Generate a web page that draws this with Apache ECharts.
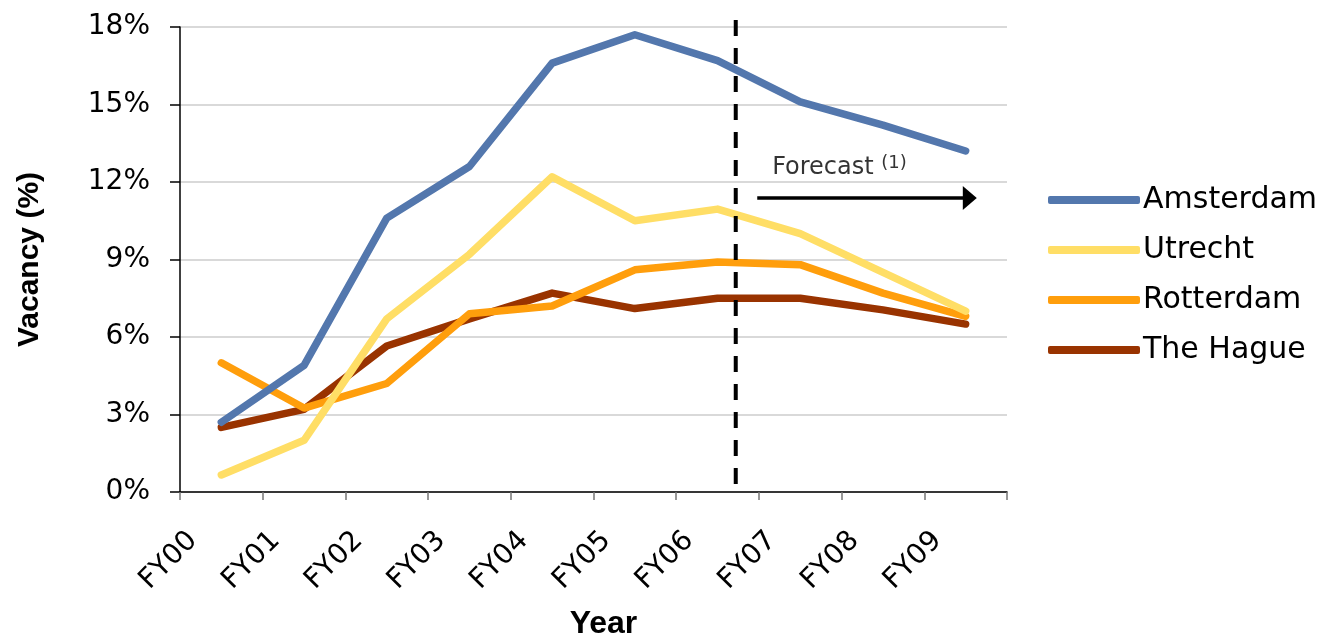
<!DOCTYPE html>
<html>
<head>
<meta charset="utf-8">
<script src="https://cdn.jsdelivr.net/npm/echarts@6/dist/echarts.min.js"></script>
<style>
html,body{margin:0;padding:0;background:#fff;}
#chart{width:1324px;height:641px;}
</style>
</head>
<body>
<div id="chart"></div>
<script>
const categories = ['FY00','FY01','FY02','FY03','FY04','FY05','FY06','FY07','FY08','FY09'];
const amsterdam = [2.7, 4.9, 10.6, 12.6, 16.6, 17.7, 16.7, 15.1, 14.2, 13.2];
const utrecht   = [0.66, 2.0, 6.7, 9.2, 12.2, 10.5, 10.95, 10.0, 8.5, 7.0];
const rotterdam = [5.0, 3.25, 4.2, 6.9, 7.2, 8.6, 8.9, 8.8, 7.7, 6.8];
const theHague  = [2.5, 3.2, 5.65, 6.7, 7.7, 7.1, 7.5, 7.5, 7.05, 6.5];
const seriesNames = ['Amsterdam','Utrecht','Rotterdam','The Hague'];
const yTicks = {min: 0, max: 18, interval: 3};
// Forecast annotation (in category-index units, 0..10 across plot; y in %)
const forecastStart = 6.72;
const forecastTop = 18.27;
const arrowFrom = [6.98, 11.38];
const arrowTo = [9.55, 11.38];
const forecastLabelAt = [7.16, 12.54];

const colors = ['#5377AD', '#FFDE66', '#FF9E0C', '#993300'];
const font = 'DejaVu Sans';

const chart = echarts.init(document.getElementById('chart'));
const seriesData = [amsterdam, utrecht, rotterdam, theHague];

const lineSeries = seriesNames.map((n, i) => ({
  name: n,
  type: 'line',
  xAxisIndex: 0,
  yAxisIndex: 0,
  data: seriesData[i],
  symbol: 'none',
  lineStyle: {width: 7.5, color: colors[i], cap: 'round', join: 'round'},
  itemStyle: {color: colors[i]},
  z: 3 + (seriesNames.length - i)
}));

chart.setOption({
  animation: false,
  backgroundColor: '#fff',
  grid: {left: 180, right: 317, top: 27, bottom: 149, containLabel: false, outerBoundsMode: 'none'},
  legend: {
    orient: 'vertical',
    left: 1043,
    top: 180,
    icon: 'roundRect',
    itemWidth: 92,
    itemHeight: 8,
    itemGap: 20,
    textStyle: {fontFamily: font, fontSize: 30, color: '#000', lineHeight: 30, padding: [0,0,0,-2]},
    data: seriesNames
  },
  xAxis: [{
    type: 'category',
    data: categories,
    boundaryGap: true,
    name: 'Year',
    nameLocation: 'middle',
    nameGap: 116,
    nameTextStyle: {fontFamily: 'Liberation Sans', fontWeight: 'bold', fontSize: 32, color: '#000', padding: [0,0,0,20]},
    axisLine: {show: true, lineStyle: {color: '#000', width: 1.5}},
    axisTick: {show: true, length: 8, lineStyle: {color: '#777', width: 1.5}},
    axisLabel: {
      rotate: 45,
      margin: 16,
      fontFamily: font,
      fontSize: 28,
      color: '#000',
      padding: [0, 40, 0, 0],
      interval: 0
    },
    splitLine: {show: false}
  }, {
    type: 'value',
    min: 0,
    max: 10,
    show: false
  }],
  yAxis: {
    type: 'value',
    min: yTicks.min,
    max: yTicks.max,
    interval: yTicks.interval,
    name: 'Vacancy (%)',
    nameLocation: 'middle',
    nameGap: 135,
    nameRotate: 90,
    nameTextStyle: {fontFamily: 'Liberation Sans', fontWeight: 'bold', fontSize: 30, color: '#000'},
    axisLine: {show: true, lineStyle: {color: '#000', width: 1.5}},
    axisTick: {show: true, length: 10, lineStyle: {color: '#000', width: 1.5}},
    axisLabel: {formatter: '{value}%', margin: 30, fontFamily: font, fontSize: 28, color: '#000'},
    splitLine: {show: true, lineStyle: {color: '#CCCCCC', width: 1.5}}
  },
  series: lineSeries.concat([{
    name: 'forecast',
    type: 'line',
    xAxisIndex: 1,
    yAxisIndex: 0,
    data: [[forecastStart, forecastTop], [forecastStart, 0]],
    symbol: 'none',
    clip: false,
    silent: true,
    lineStyle: {color: '#000', width: 4, type: [16, 12]},
    z: 10
  }, {
    name: 'arrow',
    type: 'scatter',
    xAxisIndex: 1,
    yAxisIndex: 0,
    data: [forecastLabelAt],
    symbolSize: 0,
    silent: true,
    clip: false,
    label: {
      show: true,
      position: 'right',
      distance: 0,
      color: '#000',
      formatter: '{a|Forecast }{s|(1)}',
      rich: {
        a: {fontFamily: font, fontSize: 24, color: '#000'},
        s: {fontFamily: font, fontSize: 18, color: '#000', verticalAlign: 'top', padding: [0,0,10,0]}
      }
    },
    markLine: {
      silent: true,
      symbol: ['none', 'triangle'],
      symbolSize: [24, 14],
      label: {show: false},
      lineStyle: {color: '#000', width: 3.5, type: 'solid'},
      data: [[{coord: arrowFrom}, {coord: arrowTo}]]
    }
  }])
});
</script>
</body>
</html>
